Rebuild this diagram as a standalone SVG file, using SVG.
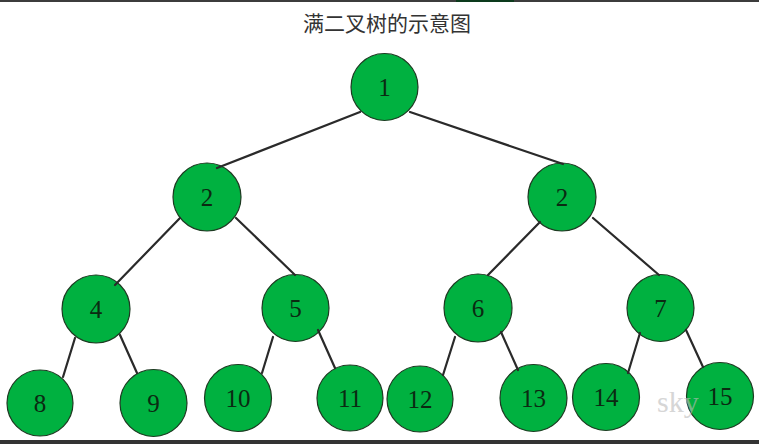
<svg xmlns="http://www.w3.org/2000/svg" width="759" height="444" viewBox="0 0 759 444">
<style>
.node circle{fill:#00b140;stroke:#1e3a22;stroke-width:1.2}
.node text{font-family:"Liberation Serif","DejaVu Serif",serif;font-size:25px;fill:#0b2a12;text-anchor:middle}
.edges line{stroke:#2a2a2a;stroke-width:2.2;stroke-linecap:round}
.title{font-family:"Liberation Sans","Noto Sans CJK SC",sans-serif;font-size:21px;fill:#333;text-anchor:middle}
.wm{font-family:"Liberation Serif",serif;font-size:30px;fill:#bbbbbb;opacity:0.6}
</style>
<rect x="0" y="0" width="759" height="444" fill="#fff"/>
<rect x="0" y="0" width="759" height="2" fill="#3c3c3c"/>
<rect x="456" y="0" width="58" height="2" fill="#0c3a1c"/>
<rect x="0" y="440" width="759" height="4" fill="#333"/>
<text class="title" x="387" y="31">满二叉树的示意图</text>
<g id="n1" class="node"><circle cx="384.5" cy="87" r="33.5"/><text x="384.5" y="96">1</text></g>
<g id="n2a" class="node"><circle cx="207" cy="197" r="34"/><text x="207" y="206">2</text></g>
<g id="n2b" class="node"><circle cx="562" cy="197" r="34"/><text x="562" y="206">2</text></g>
<g id="n4" class="node"><circle cx="96" cy="309" r="34"/><text x="96" y="318">4</text></g>
<g id="n5" class="node"><circle cx="295.5" cy="308" r="33.5"/><text x="295.5" y="317">5</text></g>
<g id="n6" class="node"><circle cx="478" cy="308" r="34"/><text x="478" y="317">6</text></g>
<g id="n7" class="node"><circle cx="660.5" cy="308" r="33.5"/><text x="660.5" y="317">7</text></g>
<g id="n8" class="node"><circle cx="40" cy="403" r="33"/><text x="40" y="412">8</text></g>
<g id="n9" class="node"><circle cx="153.5" cy="403" r="33.5"/><text x="153.5" y="412">9</text></g>
<g id="n10" class="node"><circle cx="238" cy="398" r="33.5"/><text x="238" y="407">10</text></g>
<g id="n11" class="node"><circle cx="350" cy="398" r="33"/><text x="350" y="407">11</text></g>
<g id="n12" class="node"><circle cx="420" cy="399" r="33"/><text x="420" y="408">12</text></g>
<g id="n13" class="node"><circle cx="533.5" cy="398" r="33.5"/><text x="533.5" y="407">13</text></g>
<g id="n14" class="node"><circle cx="606" cy="397" r="33.5"/><text x="606" y="406">14</text></g>
<g id="n15" class="node"><circle cx="720" cy="396" r="33.5"/><text x="720" y="405">15</text></g>
<g id="edges" class="edges">
<line x1="360" y1="112" x2="217" y2="168"/>
<line x1="410" y1="112" x2="563" y2="164"/>
<line x1="180" y1="218" x2="115" y2="285"/>
<line x1="236" y1="218" x2="295" y2="275"/>
<line x1="540" y1="222" x2="488" y2="275"/>
<line x1="593" y1="218" x2="659" y2="275"/>
<line x1="75" y1="338" x2="63" y2="377"/>
<line x1="120" y1="335" x2="137" y2="373"/>
<line x1="273" y1="337" x2="262" y2="373"/>
<line x1="318" y1="330" x2="335" y2="368"/>
<line x1="455" y1="337" x2="443" y2="375"/>
<line x1="501" y1="332" x2="518" y2="370"/>
<line x1="640" y1="333" x2="628" y2="373"/>
<line x1="686" y1="330" x2="703" y2="367"/>
</g>
<text class="wm" x="657" y="412">sky</text>
</svg>
